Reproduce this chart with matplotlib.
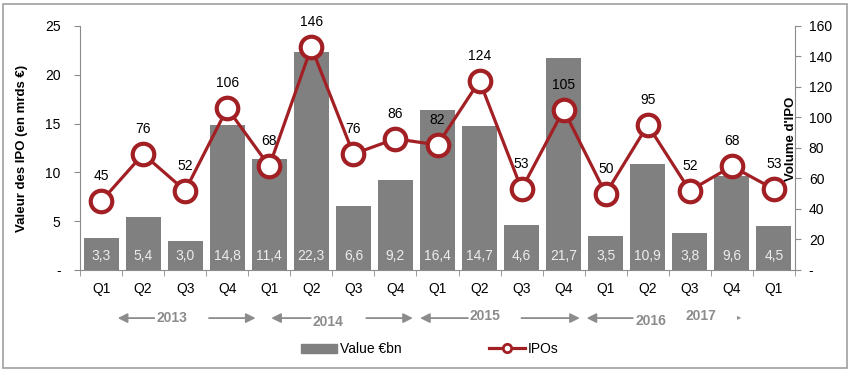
import numpy as np
import matplotlib
matplotlib.use("Agg")
from matplotlib import pyplot as plt
from matplotlib.patches import Rectangle
from matplotlib.lines import Line2D
from matplotlib.patches import Patch

plt.rcParams['font.family'] = ['Liberation Sans', 'DejaVu Sans']

# Donnees
quarters = ['Q1', 'Q2', 'Q3', 'Q4', 'Q1', 'Q2', 'Q3', 'Q4', 'Q1', 'Q2', 'Q3', 'Q4',
            'Q1', 'Q2', 'Q3', 'Q4', 'Q1']
value_bn = [3.3, 5.4, 3.0, 14.8, 11.4, 22.3, 6.6, 9.2, 16.4, 14.7, 4.6, 21.7,
            3.5, 10.9, 3.8, 9.6, 4.5]
ipos = [45, 76, 52, 106, 68, 146, 76, 86, 82, 124, 53, 105, 50, 95, 52, 68, 53]
years = ['2013', '2014', '2015', '2016']

bar_col = '#808080'
red = '#A21F24'
grey = '#8C8C8C'

fig = plt.figure(figsize=(8.52, 3.75), dpi=100)
ax = fig.add_axes([0.094, 0.28, 0.839, 0.651])
ax2 = ax.twinx()

x = np.arange(len(quarters))
ax.bar(x, value_bn, width=0.83, color=bar_col, zorder=1)
for xi, v in zip(x, value_bn):
    ax.text(xi, 1.4, '{:.1f}'.format(v).replace('.', ','), ha='center', va='center',
            color='#EDEDED', fontsize=10)

ax2.plot(x, ipos, color=red, lw=2.3, marker='o', ms=15.5, mfc='white', mec=red, mew=3,
         zorder=3)
for xi, n in zip(x, ipos):
    ax2.annotate(str(n), (xi, n), xytext=(0, 18), textcoords='offset points',
                 ha='center', va='center', fontsize=10)

ax.set_xlim(-0.5, len(quarters) - 0.5)
ax.set_ylim(0, 25)
ax2.set_ylim(0, 160)
ax.set_yticks(np.arange(0, 26, 5))
ax.set_yticklabels(['-'] + [str(v) for v in range(5, 26, 5)])
ax2.set_yticks(np.arange(0, 161, 20))
ax2.set_yticklabels(['-'] + [str(v) for v in range(20, 161, 20)])
ax.set_xticks(x)
ax.set_xticklabels(quarters)
ax.set_xticks(np.arange(-0.5, len(quarters), 1), minor=True)
ax.tick_params(axis='x', which='major', length=0, pad=9, labelsize=10)
ax.tick_params(axis='x', which='minor', length=4, color=grey)
ax.tick_params(axis='y', length=4, color=grey, labelsize=10, pad=10)
ax2.tick_params(axis='y', length=4, color=grey, labelsize=10, pad=6)

for a in (ax, ax2):
    a.spines['top'].set_visible(False)
    for s in ('left', 'right', 'bottom'):
        a.spines[s].set_color(grey)
ax.spines['right'].set_visible(False)
ax2.spines['left'].set_visible(False)
ax2.spines['bottom'].set_visible(False)

ax.set_ylabel('Valeur des IPO (en mrds €)', fontsize=9.5, fontweight='bold', labelpad=12)
fig.text(0.928, 0.63, "Volume d'IPO", rotation=90, ha='center', va='center',
         fontsize=9.5, fontweight='bold')

# fleches des annees (positions en unites de categorie)
trans = ax.get_xaxis_transform()
ya = -0.197
akw = dict(arrowstyle='-|>', color=grey, lw=1.3, mutation_scale=14)
left_tip = [0.33, 3.98, 7.52, 11.48]
left_end = [1.33, 5.05, 8.79, 12.71]
text_x = [1.69, 5.4, 9.12, 13.07]
text_dy = [0.0, -0.018, 0.008, -0.01]
right_start = [2.5, 6.24, 9.93]
right_tip = [3.74, 7.48, 11.45]
for k, yr in enumerate(years):
    ax.annotate('', xy=(left_tip[k], ya), xytext=(left_end[k], ya),
                xycoords=trans, textcoords=trans, arrowprops=akw, annotation_clip=False)
    ax.text(text_x[k], ya + text_dy[k], yr, transform=trans, ha='center', va='center',
            color=grey, fontsize=10, fontweight='bold')
    if k < 3:
        ax.annotate('', xy=(right_tip[k], ya), xytext=(right_start[k], ya),
                    xycoords=trans, textcoords=trans, arrowprops=akw,
                    annotation_clip=False)
ax.text(14.26, ya + 0.01, '2017', transform=trans, ha='center', va='center',
        color=grey, fontsize=10, fontweight='bold')
ax.text(15.17, ya, '▸', transform=trans, ha='center', va='center', color=grey, fontsize=6)

handles = [Patch(color=bar_col, label='Value €bn'),
           Line2D([], [], color=red, lw=2.3, marker='o', ms=6, mfc='white', mec=red,
                  mew=2, label='IPOs')]
ax.legend(handles=handles, loc='center', bbox_to_anchor=(0.489, -0.325), ncol=2,
          frameon=False, fontsize=10, columnspacing=6.3, handlelength=2.6,
          handletextpad=0.2)

fig.patches.append(Rectangle((0.004, 0.018), 0.99, 0.972, transform=fig.transFigure,
                             fill=False, edgecolor='#A0A0A0', lw=1.2))

fig.savefig('out.png', dpi=100)
